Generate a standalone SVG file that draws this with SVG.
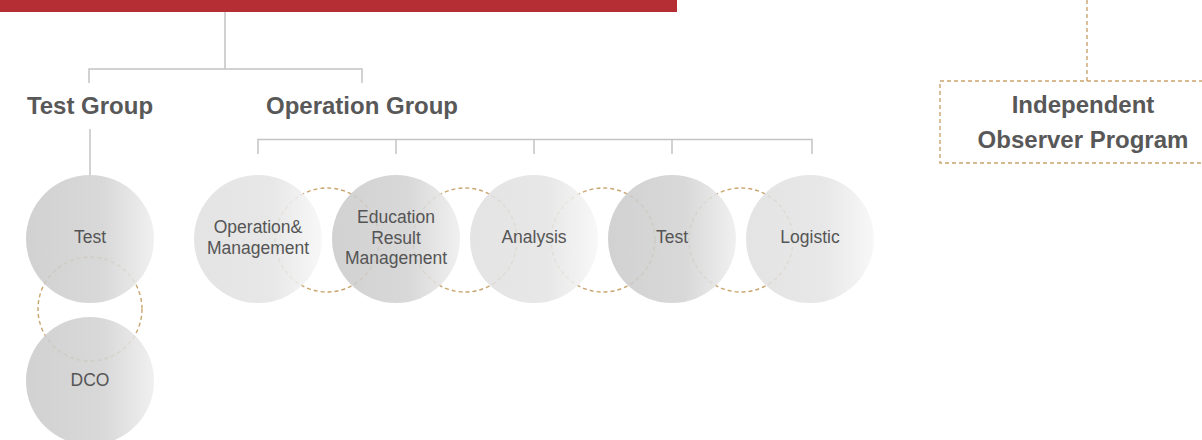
<svg xmlns="http://www.w3.org/2000/svg" width="1202" height="440" viewBox="0 0 1202 440">
<defs>
<linearGradient id="gDark" x1="0" y1="0" x2="1" y2="0">
<stop offset="0" stop-color="#cbcbcb"/>
<stop offset="0.6" stop-color="#d3d3d3"/>
<stop offset="1" stop-color="#eeeeee"/>
</linearGradient>
<linearGradient id="gLight" x1="0" y1="0" x2="1" y2="0">
<stop offset="0" stop-color="#e0e0e0"/>
<stop offset="0.6" stop-color="#e4e4e4"/>
<stop offset="1" stop-color="#f7f7f7"/>
</linearGradient>
<style>
.line{fill:none;stroke:#c4c4c4;stroke-width:1.5}
.dash{fill:none;stroke:#c9a46c;stroke-width:1.4;stroke-dasharray:4 3}
.dark{fill:url(#gDark);fill-opacity:0.88}
.light{fill:url(#gLight);fill-opacity:0.88}
.head{font-family:"Liberation Sans",Arial,sans-serif;font-weight:bold;font-size:24px;fill:#585858;text-anchor:middle}
.lbl{font-family:"Liberation Sans",Arial,sans-serif;font-size:17.5px;fill:#555;text-anchor:middle}
</style>
</defs>
<rect x="0" y="0" width="677" height="12" fill="#b52e33"/>
<g id="connectors">
<path class="line" d="M225,12 V69 M89,83 V69 H362 V83"/>
<path class="line" d="M90,129 V175"/>
<path class="line" d="M258,154 V139.5 H812 V154 M396,139.5 V154 M534,139.5 V154 M672,139.5 V154"/>
<path class="dash" d="M1087,0 V81"/>
<circle class="dash" cx="90" cy="309" r="52"/>
<circle class="dash" cx="327" cy="240" r="52"/>
<circle class="dash" cx="465" cy="240" r="52"/>
<circle class="dash" cx="603" cy="240" r="52"/>
<circle class="dash" cx="741" cy="240" r="52"/>
</g>
<g id="test-group"><text class="head" x="90" y="114">Test Group</text></g>
<g id="operation-group"><text class="head" x="362" y="114">Operation Group</text></g>
<g id="observer">
<rect class="dash" x="940" y="81" width="275" height="82"/>
<text class="head" x="1083" y="113">Independent</text>
<text class="head" x="1083" y="148">Observer Program</text>
</g>
<g id="test-left"><circle class="dark" cx="90" cy="239" r="64"/><text class="lbl" x="90" y="243">Test</text></g>
<g id="dco"><circle class="dark" cx="90" cy="381" r="64"/><text class="lbl" x="90" y="386">DCO</text></g>
<g id="op-mgmt"><circle class="light" cx="258" cy="239" r="64"/><text class="lbl" x="258" y="233">Operation&amp;</text><text class="lbl" x="258" y="254">Management</text></g>
<g id="edu"><circle class="dark" cx="396" cy="239" r="64"/><text class="lbl" x="396" y="223">Education</text><text class="lbl" x="396" y="243.5">Result</text><text class="lbl" x="396" y="264">Management</text></g>
<g id="analysis"><circle class="light" cx="534" cy="239" r="64"/><text class="lbl" x="534" y="243">Analysis</text></g>
<g id="test-op"><circle class="dark" cx="672" cy="239" r="64"/><text class="lbl" x="672" y="243">Test</text></g>
<g id="logistic"><circle class="light" cx="810" cy="239" r="64"/><text class="lbl" x="810" y="243">Logistic</text></g>
</svg>
